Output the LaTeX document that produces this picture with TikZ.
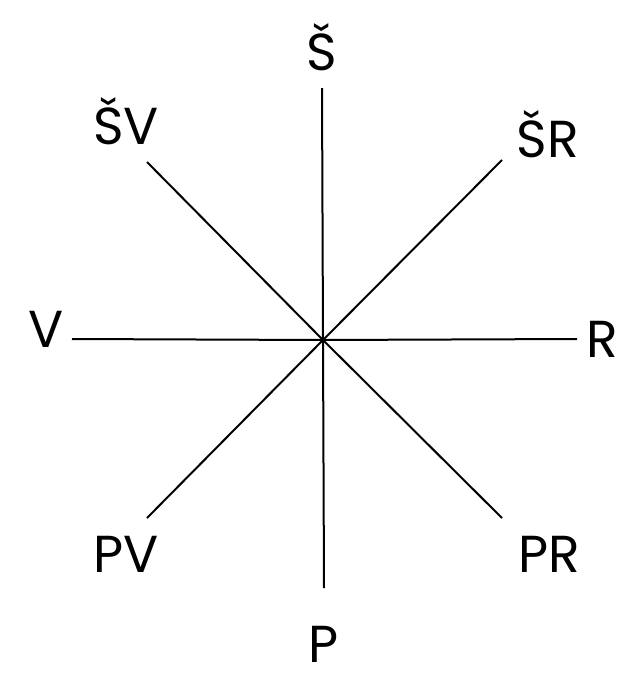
\documentclass[tikz,border=0pt]{standalone}
\usepackage{fontspec}
\setmainfont{Poppins}
\begin{document}
\begin{tikzpicture}[x=1pt,y=-1pt,
  ray/.style={line width=2pt,black},
  lab/.style={anchor=base,inner sep=0pt,font=\fontsize{52}{60}\selectfont}]
\useasboundingbox (0,0) rectangle (624,675);
\coordinate (c) at (323,340);
\coordinate (n) at (322,88);
\coordinate (s) at (324,588);
\coordinate (w) at (72,339);
\coordinate (e) at (577,339);
\coordinate (ne) at (502,160);
\coordinate (nw) at (147,162);
\coordinate (sw) at (147,518);
\coordinate (se) at (502,518);
\foreach \p in {n,s,w,e,ne,nw,sw,se} \draw[ray] (c) -- (\p);
\node[lab] (ln) at (322,70) {Š};
\node[lab] (lnw) at (126,144) {ŠV};
\node[lab] (lne) at (548,157) {ŠR};
\node[lab] (lw) at (46,347) {V};
\node[lab] (le) at (602,357) {R};
\node[lab] (lsw) at (126,572) {PV};
\node[lab] (lse) at (549,572) {PR};
\node[lab] (ls) at (324,662) {P};
\end{tikzpicture}
\end{document}
